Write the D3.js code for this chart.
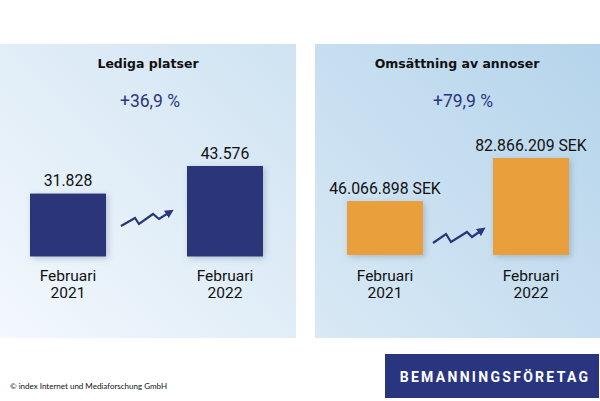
<!DOCTYPE html>
<html><head><meta charset="utf-8">
<script src="https://cdn.jsdelivr.net/npm/d3@7"></script>
<style>
html,body{margin:0;padding:0;background:#fff;}
svg{display:block;font-family:Roboto,"Noto Sans",sans-serif;}
</style></head>
<body>
<svg id="c" width="600" height="401"></svg>
<script>
const categories = ["2021", "2022"];
const categoryLabel = "Februari";
const panelTitles = ["Lediga platser", "Omsättning av annoser"];
const changeLabels = ["+36,9 %", "+79,9 %"];
const vacancies = [31828, 43576];
const vacancyLabels = ["31.828", "43.576"];
const revenue = [46066898, 82866209];
const revenueLabels = ["46.066.898 SEK", "82.866.209 SEK"];
const sourceText = "© index Internet und Mediaforschung GmbH";
const badgeText = "BEMANNINGSFÖRETAG";

const svg = d3.select("#c");
const defs = svg.append("defs");

const g1 = defs.append("linearGradient").attr("id","bg1").attr("x1","0").attr("y1","1").attr("x2","1").attr("y2","0");
g1.append("stop").attr("offset","0").attr("stop-color","#f3f8fd");
g1.append("stop").attr("offset","1").attr("stop-color","#cfe3f2");
const g2 = defs.append("linearGradient").attr("id","bg2").attr("x1","0").attr("y1","1").attr("x2","1").attr("y2","0");
g2.append("stop").attr("offset","0").attr("stop-color","#d9e9f5");
g2.append("stop").attr("offset","1").attr("stop-color","#b5d4eb");

const sh = defs.append("filter").attr("id","shadow").attr("x","-30%").attr("y","-30%").attr("width","160%").attr("height","160%");
sh.append("feDropShadow").attr("dx",2).attr("dy",2).attr("stdDeviation",3).attr("flood-color","#5a6f88").attr("flood-opacity",0.35);

const mk = defs.append("marker").attr("id","arr").attr("viewBox","0 0 10 10").attr("refX",5).attr("refY",5)
  .attr("markerWidth",4).attr("markerHeight",4).attr("orient","auto");
mk.append("path").attr("d","M0,0 L10,5 L0,10 z").attr("fill","#2b357c");

const panels = [
  {x:0, w:296, grad:"url(#bg1)", title:panelTitles[0], change:changeLabels[0], values:vacancies, labels:vacancyLabels,
   color:"#29367a", xr:[30,263], pad:0.516, yd:[5000, 43576], yr:[256.5,166], titleX:148, changeX:150,
   zig:[[121,226],[135,218],[139,224],[153,214],[159,219],[170,212]]},
  {x:315, w:285, grad:"url(#bg2)", title:panelTitles[1], change:changeLabels[1], values:revenue, labels:revenueLabels,
   color:"#e99f3a", xr:[347,569], pad:0.479, yd:[0, 82866209], yr:[255,158], titleX:457, changeX:463,
   zig:[[433,243],[446,234],[451,242],[467,232],[472,237],[482,230]]}
];

panels.forEach(p => {
  const g = svg.append("g");
  g.append("rect").attr("x",p.x).attr("y",44).attr("width",p.w).attr("height",294).attr("fill",p.grad);
  g.append("text").attr("x",p.titleX).attr("y",68).attr("text-anchor","middle").attr("font-family","'DejaVu Sans', sans-serif")
    .attr("font-size",12.5).attr("font-weight","bold").attr("fill","#111").text(p.title);
  g.append("text").attr("x",p.changeX).attr("y",107).attr("text-anchor","middle")
    .attr("font-size",17.5).attr("fill","#2b357c").text(p.change);

  const x = d3.scaleBand().domain(categories).range(p.xr).paddingInner(p.pad).paddingOuter(0);
  const y = d3.scaleLinear().domain(p.yd).range(p.yr);
  const data = categories.map((c,i)=>({c, v:p.values[i], l:p.labels[i]}));

  g.selectAll("rect.bar").data(data).enter().append("rect").attr("class","bar")
    .attr("x",d=>x(d.c)).attr("width",x.bandwidth())
    .attr("y",d=>y(d.v)).attr("height",d=>y(p.yd[0])-y(d.v))
    .attr("fill",p.color).attr("filter","url(#shadow)");

  g.selectAll("text.val").data(data).enter().append("text").attr("class","val")
    .attr("x",d=>x(d.c)+x.bandwidth()/2).attr("y",d=>y(d.v)-7.5)
    .attr("text-anchor","middle").attr("font-size",15.8).attr("fill","#111").text(d=>d.l);

  const cat = g.selectAll("text.cat").data(data).enter().append("text").attr("class","cat")
    .attr("text-anchor","middle").attr("font-size",15.5).attr("fill","#111");
  cat.append("tspan").attr("x",d=>x(d.c)+x.bandwidth()/2).attr("y",281).text(categoryLabel);
  cat.append("tspan").attr("x",d=>x(d.c)+x.bandwidth()/2).attr("y",298).text(d=>d.c);

  g.append("path").attr("d",d3.line()(p.zig)).attr("fill","none").attr("stroke","#2b357c")
    .attr("stroke-width",2.2).attr("stroke-linejoin","miter").attr("marker-end","url(#arr)");
});

svg.append("text").attr("x",10).attr("y",389).attr("font-family","Lato, sans-serif")
  .attr("font-size",8).attr("fill","#111").text(sourceText);

svg.append("rect").attr("x",385).attr("y",354).attr("width",214).attr("height",44).attr("fill","#29367f");
svg.append("text").attr("x",495).attr("y",382).attr("text-anchor","middle").attr("font-size",14)
  .attr("font-weight","bold").attr("letter-spacing",2.3).attr("fill","#fff").text(badgeText);
</script>
</body></html>
